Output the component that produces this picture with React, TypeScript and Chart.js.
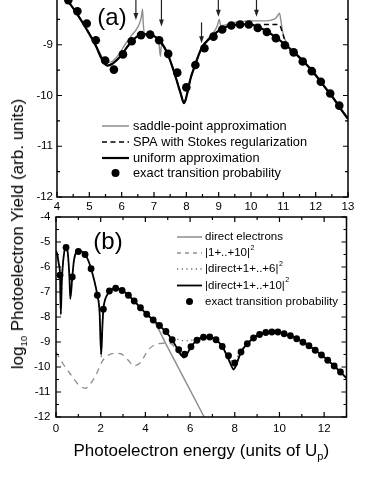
import React, { useEffect, useRef } from 'react';
import { Chart, registerables } from 'chart.js';
Chart.register(...registerables);

const FONT = '"Liberation Sans", Arial, Helvetica, sans-serif';
const GRAY = '#8d8d8d';

// exact transition probability (shared by both panels)
const EXACT_X = [0.18, 0.45, 0.73, 1.0, 1.3, 1.57, 1.85, 2.12, 2.39, 2.67, 2.96, 3.24, 3.5, 3.78, 4.06, 4.35, 4.63, 4.92, 5.2, 5.49, 5.76, 6.04, 6.31, 6.6, 6.88, 7.16, 7.44, 7.72, 8.0, 8.28, 8.56, 8.84, 9.11, 9.39, 9.66, 9.93, 10.21, 10.49, 10.77, 11.05, 11.32, 11.6, 11.88, 12.16, 12.45, 12.73];
const EXACT_Y = [-6.33, -5.22, -6.4, -5.38, -5.5, -6.07, -7.13, -7.69, -6.96, -6.85, -6.94, -7.13, -7.36, -7.63, -7.89, -8.12, -8.34, -8.58, -8.91, -9.31, -9.49, -9.19, -8.93, -8.81, -8.8, -8.91, -9.18, -9.55, -9.84, -9.4, -9.07, -8.84, -8.7, -8.62, -8.6, -8.6, -8.67, -8.75, -8.87, -9.01, -9.15, -9.33, -9.52, -9.73, -9.96, -10.2];

// panel (a)
const SPA_X = [4.0, 4.35, 4.63, 4.92, 5.2, 5.4, 5.55, 5.7, 5.9, 6.1, 6.3, 6.45, 6.55, 6.61, 6.645, 6.67, 6.72, 6.8, 7.03, 7.15, 7.2, 7.23, 7.28, 7.4, 7.55, 7.7, 7.82, 7.93, 8.03, 8.12, 8.27, 8.47, 8.7, 8.88, 8.96, 9.02, 9.06, 9.12, 9.4, 9.7, 10.0, 10.3, 10.6, 10.78, 10.88, 10.92, 10.97, 11.1, 11.4, 11.7, 12.0, 12.3, 12.6, 12.8, 13.0];
const SPA_Y = [-7.88, -8.15, -8.4, -8.7, -9.0, -9.25, -9.35, -9.33, -9.2, -9.0, -8.82, -8.7, -8.58, -8.45, -8.3, -8.6, -8.8, -8.79, -8.84, -8.96, -9.23, -9.0, -9.03, -9.15, -9.4, -9.7, -9.95, -10.15, -9.95, -9.69, -9.4, -9.07, -8.86, -8.72, -8.62, -8.5, -8.62, -8.62, -8.57, -8.54, -8.53, -8.53, -8.52, -8.47, -8.38, -8.5, -8.72, -8.97, -9.17, -9.37, -9.58, -9.83, -10.08, -10.27, -10.45];
const STOKES_X = [4.0, 4.35, 4.63, 4.92, 5.2, 5.4, 5.55, 5.7, 5.85, 6.0, 6.15, 6.3, 6.45, 6.62, 6.8, 7.03, 7.24, 7.4, 7.55, 7.7, 7.82, 7.93, 8.03, 8.12, 8.27, 8.47, 8.78, 9.14, 9.4, 9.66, 9.95, 10.25, 10.5, 10.8, 10.9, 11.0, 11.1, 11.4, 11.7, 12.0, 12.3, 12.6, 12.8, 13.0];
const STOKES_Y = [-7.88, -8.15, -8.4, -8.7, -9.02, -9.3, -9.41, -9.38, -9.3, -9.2, -9.06, -8.94, -8.85, -8.8, -8.79, -8.84, -8.97, -9.15, -9.4, -9.7, -9.95, -10.15, -9.95, -9.69, -9.4, -9.07, -8.84, -8.67, -8.62, -8.6, -8.6, -8.6, -8.6, -8.6, -8.63, -8.82, -9.02, -9.19, -9.38, -9.6, -9.85, -10.1, -10.29, -10.46];
const UNI_X = [4.0, 4.35, 4.63, 4.92, 5.2, 5.4, 5.55, 5.7, 5.85, 6.0, 6.15, 6.3, 6.45, 6.62, 6.8, 7.03, 7.24, 7.4, 7.55, 7.7, 7.82, 7.93, 8.03, 8.12, 8.27, 8.47, 8.78, 9.14, 9.4, 9.66, 9.95, 10.25, 10.5, 10.8, 11.1, 11.4, 11.7, 12.0, 12.3, 12.6, 12.8, 13.0];
const UNI_Y = [-7.88, -8.15, -8.4, -8.7, -9.02, -9.3, -9.41, -9.38, -9.3, -9.2, -9.06, -8.94, -8.85, -8.8, -8.79, -8.84, -8.97, -9.15, -9.4, -9.7, -9.95, -10.15, -9.95, -9.69, -9.4, -9.07, -8.84, -8.67, -8.62, -8.6, -8.6, -8.66, -8.74, -8.87, -9.02, -9.19, -9.38, -9.6, -9.85, -10.1, -10.29, -10.46];
const ARROW_X = [6.44, 7.23, 8.47, 8.99, 10.17];
const ARROW_FROM = [-8.0, -8.0, -8.56, -8.0, -8.0];
const ARROW_TO = [-8.51, -8.64, -8.97, -8.45, -8.45];
const A_XTICKS = [4, 5, 6, 7, 8, 9, 10, 11, 12, 13];
const A_XMINOR = [4.5, 5.5, 6.5, 7.5, 8.5, 9.5, 10.5, 11.5, 12.5];
const A_YTICKS = [-12, -11, -10, -9, -8];
const A_YMINOR = [-11.5, -10.5, -9.5, -8.5];

// panel (b)
const DIRECT_X = [2.39, 2.67, 2.96, 3.24, 3.5, 3.78, 4.06, 4.36, 5, 5.5, 6, 6.63];
const DIRECT_Y = [-6.96, -6.85, -6.94, -7.13, -7.36, -7.63, -7.89, -8.13, -9.22, -10.07, -10.92, -12];
const DASH_X = [0, 0.3, 0.7, 1.0, 1.3, 1.6, 1.85, 2.05, 2.3, 2.6, 2.9, 3.2, 3.5, 3.8, 4.1, 4.4, 4.8, 5.1, 5.4, 5.6, 5.72, 5.85, 6.04, 6.31, 6.6, 6.88, 7.16, 7.44, 7.65, 7.85, 7.95, 8.05, 8.28, 8.56, 8.84, 9.11, 9.39, 9.66, 9.93, 10.21, 10.49, 10.77, 11.05, 11.32, 11.6, 11.88, 12.16, 12.45, 12.73, 13];
const DASH_Y = [-9.4, -9.85, -10.35, -10.7, -10.85, -10.6, -10.2, -9.8, -9.55, -9.45, -9.47, -9.7, -9.95, -9.8, -9.35, -9.12, -9.05, -9.05, -9.3, -9.55, -9.62, -9.5, -9.19, -8.93, -8.81, -8.8, -8.91, -9.18, -9.55, -9.95, -10.1, -9.95, -9.4, -9.07, -8.84, -8.7, -8.62, -8.6, -8.6, -8.67, -8.75, -8.87, -9.01, -9.15, -9.33, -9.52, -9.73, -9.96, -10.2, -10.45];
const DOTTED_X = [0, 0.12, 0.18, 0.215, 0.26, 0.34, 0.45, 0.6, 0.64, 0.73, 0.9, 1.0, 1.3, 1.57, 1.85, 1.95, 2.02, 2.08, 2.12, 2.3, 2.67, 3.24, 3.78, 4.35, 4.92, 5.2, 5.5, 5.8, 6.1, 6.31, 6.6, 6.88, 7.16, 7.44, 7.65, 7.85, 7.95, 8.05, 8.28, 8.56, 9.11, 9.66, 10.21, 10.77, 11.32, 11.88, 12.45, 13];
const DOTTED_Y = [-5.35, -5.85, -6.33, -7.9, -6.6, -5.6, -5.2, -6.4, -7.27, -6.4, -5.4, -5.33, -5.5, -6.07, -7.13, -7.8, -9.6, -8.3, -7.69, -7.1, -6.85, -7.13, -7.63, -8.12, -8.6, -8.8, -8.9, -8.95, -8.92, -8.9, -8.81, -8.8, -8.91, -9.18, -9.5, -9.75, -9.8, -9.7, -9.35, -9.07, -8.7, -8.6, -8.67, -8.87, -9.15, -9.52, -9.96, -10.45];
const FULL_X = [0, 0.06, 0.12, 0.18, 0.215, 0.26, 0.34, 0.45, 0.53, 0.6, 0.64, 0.73, 0.8, 0.9, 1.0, 1.15, 1.3, 1.45, 1.57, 1.7, 1.85, 1.95, 2.02, 2.08, 2.12, 2.2, 2.3, 2.39, 2.55, 2.67, 2.96, 3.24, 3.5, 3.78, 4.06, 4.35, 4.63, 4.92, 5.2, 5.45, 5.62, 5.72, 5.85, 6.04, 6.31, 6.6, 6.88, 7.16, 7.44, 7.65, 7.85, 7.95, 8.05, 8.28, 8.56, 8.84, 9.11, 9.39, 9.66, 9.93, 10.21, 10.49, 10.77, 11.05, 11.32, 11.6, 11.88, 12.16, 12.45, 12.73, 13];
const FULL_Y = [-5.35, -5.5, -5.85, -6.33, -7.9, -6.6, -5.6, -5.2, -5.45, -6.4, -7.27, -6.4, -5.75, -5.4, -5.33, -5.38, -5.5, -5.75, -6.07, -6.5, -7.13, -7.8, -9.5, -8.3, -7.69, -7.3, -7.1, -6.96, -6.87, -6.85, -6.94, -7.13, -7.36, -7.63, -7.89, -8.12, -8.34, -8.6, -8.92, -9.3, -9.55, -9.62, -9.5, -9.19, -8.93, -8.81, -8.8, -8.91, -9.18, -9.55, -9.95, -10.1, -9.95, -9.4, -9.07, -8.84, -8.7, -8.62, -8.6, -8.6, -8.67, -8.75, -8.87, -9.01, -9.15, -9.33, -9.52, -9.73, -9.96, -10.2, -10.45];
const B_XTICKS = [0, 2, 4, 6, 8, 10, 12];
const B_XMINOR = [1, 3, 5, 7, 9, 11, 13];
const B_YTICKS = [-12, -11, -10, -9, -8, -7, -6, -5, -4];
const B_YMINOR = [-11.5, -10.5, -9.5, -8.5, -7.5, -6.5, -5.5, -4.5];

const pts = (xs: number[], ys: number[]) => xs.map((x, i) => ({ x, y: ys[i] }));

function lineDs(data: any[], color: string, width: number, dash: number[] = []) {
  return {
    data, showLine: true, pointRadius: 0, borderColor: color, borderWidth: width,
    borderDash: dash, cubicInterpolationMode: 'monotone', fill: false,
  };
}
function dotDs(data: any[], r: number) {
  return { data, showLine: false, pointRadius: r, pointBackgroundColor: '#000', pointBorderWidth: 0, backgroundColor: '#000', borderColor: '#000' };
}

function framePlugin(xMajor: number[], xMinor: number[], yMajor: number[], yMinor: number[]) {
  return {
    id: 'frame',
    afterDraw(chart: any) {
      const { ctx, chartArea: a, scales } = chart;
      const xs = scales.x, ys = scales.y;
      ctx.save();
      ctx.strokeStyle = '#000';
      ctx.lineWidth = 1.2;
      ctx.beginPath();
      const seg = (x1: number, y1: number, x2: number, y2: number) => { ctx.moveTo(x1, y1); ctx.lineTo(x2, y2); };
      const xt = (v: number, len: number) => { const p = xs.getPixelForValue(v); seg(p, a.bottom, p, a.bottom - len); seg(p, a.top, p, a.top + len); };
      const yt = (v: number, len: number) => { const p = ys.getPixelForValue(v); seg(a.left, p, a.left + len, p); seg(a.right, p, a.right - len, p); };
      xMajor.forEach((v) => xt(v, 5));
      xMinor.forEach((v) => xt(v, 3));
      yMajor.forEach((v) => yt(v, 5));
      yMinor.forEach((v) => yt(v, 3));
      ctx.stroke();
      ctx.lineWidth = 1.5;
      ctx.strokeRect(a.left, a.top, a.right - a.left, a.bottom - a.top);
      ctx.restore();
    },
  };
}

type LegendItem = { kind: 'line' | 'marker'; color: string; width: number; dash?: number[]; text: string; sup?: string };

function drawLegend(ctx: CanvasRenderingContext2D, items: LegendItem[], rows: number[], x0: number, x1: number, xt: number, size: number, r: number) {
  items.forEach((it, i) => {
    const y = rows[i];
    ctx.save();
    if (it.kind === 'line') {
      ctx.strokeStyle = it.color;
      ctx.lineWidth = it.width;
      ctx.setLineDash(it.dash || []);
      ctx.beginPath();
      ctx.moveTo(x0, y);
      ctx.lineTo(x1, y);
      ctx.stroke();
    } else {
      ctx.fillStyle = it.color;
      ctx.beginPath();
      ctx.arc((x0 + x1) / 2, y, r, 0, Math.PI * 2);
      ctx.fill();
    }
    ctx.restore();
    ctx.save();
    ctx.fillStyle = '#000';
    ctx.font = `${size}px ${FONT}`;
    ctx.textBaseline = 'middle';
    ctx.textAlign = 'left';
    ctx.fillText(it.text, xt, y);
    if (it.sup) {
      const w = ctx.measureText(it.text).width;
      ctx.font = `${size * 0.62}px ${FONT}`;
      ctx.fillText(it.sup, xt + w + 0.5, y - size * 0.45);
    }
    ctx.restore();
  });
}

const TOP_A = -20;
const TOP_B = 200;

function PanelA() {
  const ref = useRef<HTMLCanvasElement>(null);
  useEffect(() => {
    const deco = {
      id: 'decoA',
      afterDraw(chart: any) {
        const { ctx, scales } = chart;
        const xs = scales.x, ys = scales.y;
        ctx.save();
        ctx.strokeStyle = '#222';
        ctx.fillStyle = '#222';
        ctx.lineWidth = 1.2;
        ARROW_X.forEach((xv, i) => {
          const px = xs.getPixelForValue(xv);
          const y1 = ys.getPixelForValue(ARROW_FROM[i]);
          const y2 = ys.getPixelForValue(ARROW_TO[i]);
          ctx.beginPath();
          ctx.moveTo(px, y1);
          ctx.lineTo(px, y2 - 6);
          ctx.stroke();
          ctx.beginPath();
          ctx.moveTo(px - 2.4, y2 - 7);
          ctx.lineTo(px + 2.4, y2 - 7);
          ctx.lineTo(px, y2);
          ctx.closePath();
          ctx.fill();
        });
        ctx.fillStyle = '#000';
        ctx.font = `24px ${FONT}`;
        ctx.textAlign = 'center';
        ctx.textBaseline = 'middle';
        ctx.fillText('(a)', 112, 18 - TOP_A);
        ctx.restore();
        drawLegend(ctx, [
          { kind: 'line', color: GRAY, width: 1.5, text: 'saddle-point approximation' },
          { kind: 'line', color: '#000', width: 1.5, dash: [5, 3.5], text: 'SPA with Stokes regularization' },
          { kind: 'line', color: '#000', width: 2.2, text: 'uniform approximation' },
          { kind: 'marker', color: '#000', width: 0, text: 'exact transition probability' },
        ], [126 - TOP_A, 142 - TOP_A, 158 - TOP_A, 173 - TOP_A], 102, 129, 133, 12.8, 4);
      },
    };
    const chart = new Chart(ref.current!, {
      type: 'scatter',
      data: {
        datasets: [
          dotDs(pts(EXACT_X, EXACT_Y).filter((p) => p.x >= 4), 4.3),
          lineDs(pts(UNI_X, UNI_Y), '#000', 2.2),
          lineDs(pts(STOKES_X, STOKES_Y), '#000', 1.5, [5, 3.5]),
          lineDs(pts(SPA_X, SPA_Y), GRAY, 1.4),
        ] as any,
      },
      options: {
        animation: false,
        responsive: false,
        layout: { padding: { left: 0, right: 34, top: 14, bottom: 0 } },
        plugins: { legend: { display: false }, tooltip: { enabled: false } },
        scales: {
          x: {
            type: 'linear', min: 4, max: 13,
            afterBuildTicks: (s: any) => { s.ticks = A_XTICKS.map((v) => ({ value: v })); },
            afterFit: (s: any) => { s.height = 23; },
            grid: { display: false, drawTicks: false },
            border: { display: false },
            ticks: { color: '#000', font: { family: FONT, size: 11.5 }, padding: 3, maxRotation: 0, autoSkip: false },
          },
          y: {
            type: 'linear', min: -12, max: -8,
            afterBuildTicks: (s: any) => { s.ticks = A_YTICKS.map((v) => ({ value: v })); },
            afterFit: (s: any) => { s.width = 57; },
            grid: { display: false, drawTicks: false },
            border: { display: false },
            ticks: { color: '#000', font: { family: FONT, size: 11.5 }, padding: 4, autoSkip: false },
          },
        },
      } as any,
      plugins: [framePlugin(A_XTICKS, A_XMINOR, A_YTICKS, A_YMINOR), deco] as any,
    });
    return () => chart.destroy();
  }, []);
  return <canvas ref={ref} width={382} height={240} style={{ position: 'absolute', left: 0, top: TOP_A, width: 382, height: 240 }} />;
}

function PanelB() {
  const ref = useRef<HTMLCanvasElement>(null);
  useEffect(() => {
    const deco = {
      id: 'decoB',
      afterDraw(chart: any) {
        const { ctx, chartArea: a } = chart;
        ctx.save();
        ctx.fillStyle = '#000';
        ctx.font = `24px ${FONT}`;
        ctx.textAlign = 'center';
        ctx.textBaseline = 'middle';
        ctx.fillText('(b)', 108, 242 - TOP_B);
        const big = `17px ${FONT}`;
        const small = `11px ${FONT}`;
        const t1 = 'Photoelectron energy (units of U';
        const t2 = 'p';
        const t3 = ')';
        ctx.font = big;
        const w1 = ctx.measureText(t1).width;
        const w3 = ctx.measureText(t3).width;
        ctx.font = small;
        const w2 = ctx.measureText(t2).width;
        const total = w1 + w2 + w3;
        let x = (a.left + a.right) / 2 - total / 2;
        const yb = 456 - TOP_B;
        ctx.textAlign = 'left';
        ctx.textBaseline = 'alphabetic';
        ctx.font = big;
        ctx.fillText(t1, x, yb);
        x += w1;
        ctx.font = small;
        ctx.fillText(t2, x, yb + 4);
        x += w2;
        ctx.font = big;
        ctx.fillText(t3, x, yb);
        ctx.restore();
        drawLegend(ctx, [
          { kind: 'line', color: GRAY, width: 1.5, text: 'direct electrons' },
          { kind: 'line', color: GRAY, width: 1.3, dash: [4, 4], text: '|1+..+10|', sup: '2' },
          { kind: 'line', color: '#666', width: 1.3, dash: [1.2, 3.5], text: '|direct+1+..+6|', sup: '2' },
          { kind: 'line', color: '#000', width: 1.8, text: '|direct+1+..+10|', sup: '2' },
          { kind: 'marker', color: '#000', width: 0, text: 'exact transition probability' },
        ], [237 - TOP_B, 253 - TOP_B, 269 - TOP_B, 285.5 - TOP_B, 301.5 - TOP_B], 177, 202, 205, 11.5, 3.5);
      },
    };
    const chart = new Chart(ref.current!, {
      type: 'scatter',
      data: {
        datasets: [
          dotDs(pts(EXACT_X, EXACT_Y), 3.4),
          lineDs(pts(FULL_X, FULL_Y), '#000', 1.8),
          lineDs(pts(DOTTED_X, DOTTED_Y), '#666', 1.3, [1.2, 3.5]),
          lineDs(pts(DASH_X, DASH_Y), GRAY, 1.3, [6, 5]),
          lineDs(pts(DIRECT_X, DIRECT_Y), GRAY, 1.5),
        ] as any,
      },
      options: {
        animation: false,
        responsive: false,
        layout: { padding: { left: 0, right: 35.5, top: 17, bottom: 0 } },
        plugins: { legend: { display: false }, tooltip: { enabled: false } },
        scales: {
          x: {
            type: 'linear', min: 0, max: 13,
            afterBuildTicks: (s: any) => { s.ticks = B_XTICKS.map((v) => ({ value: v })); },
            afterFit: (s: any) => { s.height = 77; },
            grid: { display: false, drawTicks: false },
            border: { display: false },
            ticks: { color: '#000', font: { family: FONT, size: 11.5 }, padding: 5, maxRotation: 0, autoSkip: false },
          },
          y: {
            type: 'linear', min: -12, max: -4,
            afterBuildTicks: (s: any) => { s.ticks = B_YTICKS.map((v) => ({ value: v })); },
            afterFit: (s: any) => { s.width = 56; },
            grid: { display: false, drawTicks: false },
            border: { display: false },
            ticks: { color: '#000', font: { family: FONT, size: 11.5 }, padding: 5.5, autoSkip: false },
          },
        },
      } as any,
      plugins: [framePlugin(B_XTICKS, B_XMINOR, B_YTICKS, B_YMINOR), deco] as any,
    });
    return () => chart.destroy();
  }, []);
  return <canvas ref={ref} width={382} height={294} style={{ position: 'absolute', left: 0, top: TOP_B, width: 382, height: 294 }} />;
}

export default function App() {
  return (
    <div style={{ position: 'absolute', left: 0, top: 0, width: 382, height: 494, overflow: 'hidden', background: '#fff' }}>
      <PanelB />
      <PanelA />
      <div
        style={{
          position: 'absolute', left: 19, top: 234,
          transform: 'translate(-50%, -50%) rotate(-90deg)',
          whiteSpace: 'nowrap', fontFamily: FONT, fontSize: 17, lineHeight: '20px', color: '#000',
        }}
      >
        log<span style={{ fontSize: 9.5, position: 'relative', top: 4 }}>10</span> Photoelectron Yield (arb. units)
      </div>
    </div>
  );
}
